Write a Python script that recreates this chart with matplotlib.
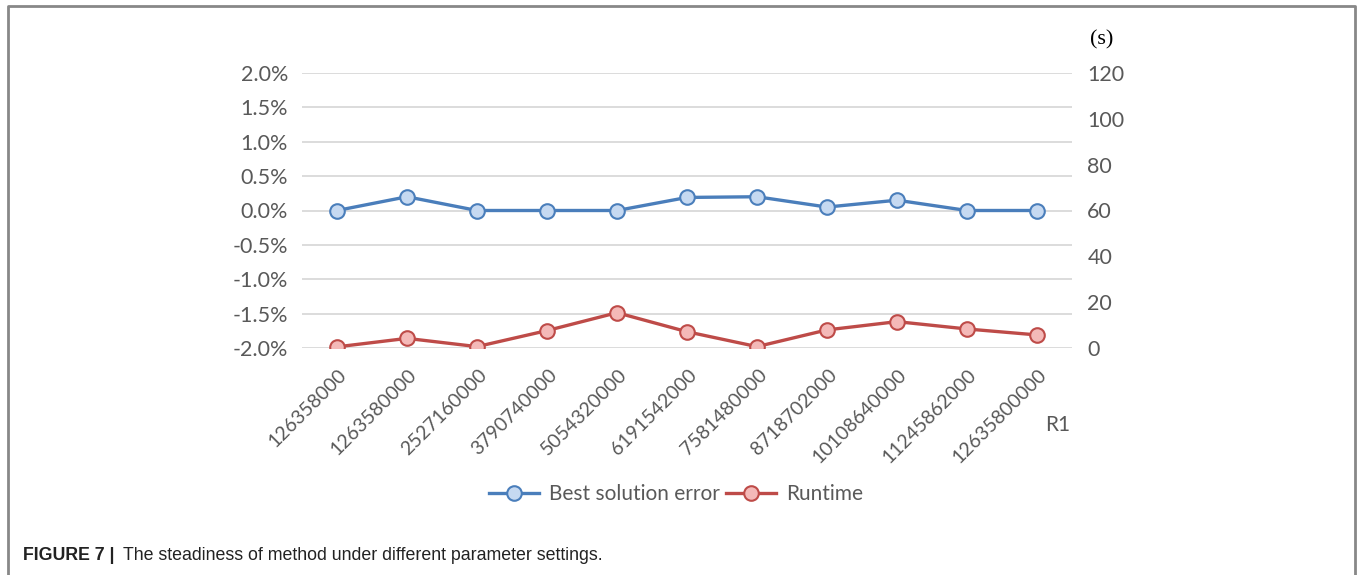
import matplotlib
matplotlib.use("Agg")
import matplotlib.pyplot as plt
from matplotlib.lines import Line2D
from matplotlib.ticker import FuncFormatter, MultipleLocator
import matplotlib.transforms as mtransforms

# Parameter settings (R1) and measured results
categories = ["126358000", "1263580000", "2527160000", "3790740000", "5054320000",
              "6191542000", "7581480000", "8718702000", "10108640000",
              "11245862000", "12635800000"]
best_error_pct = [0.0, 0.2, 0.0, 0.0, 0.0, 0.19, 0.2, 0.05, 0.15, 0.0, 0.0]
runtime_s = [0.5, 4.2, 0.6, 7.6, 15.4, 7.1, 0.6, 7.9, 11.5, 8.3, 5.7]

blue_line = "#4a7ebb"
blue_fill = "#c6d9f1"
red_line = "#be4b48"
red_fill = "#f4b9b8"
tick_grey = "#595959"
font = "Lato"

W, H = 1358, 575
fig = plt.figure(figsize=(W / 100, H / 100), dpi=100)

ax = fig.add_axes([302 / W, 1 - 348 / H, 770 / W, 275 / H])
ax2 = ax.twinx()

x = list(range(len(categories)))
marker_style = dict(marker="o", ms=10.5, mew=1.5)
ax.plot(x, best_error_pct, color=blue_line, lw=2.4, mfc=blue_fill,
        mec=blue_line, zorder=5, **marker_style)
ax2.plot(x, runtime_s, color=red_line, lw=2.4, mfc=red_fill,
         mec=red_line, zorder=5, **marker_style)

ax.set_xlim(-0.5, len(categories) - 0.5)
ax.set_ylim(-2.0, 2.0)
ax2.set_ylim(0, 120)
ax.yaxis.set_major_locator(MultipleLocator(0.5))
ax2.yaxis.set_major_locator(MultipleLocator(20))
ax.yaxis.set_major_formatter(FuncFormatter(lambda v, p: f"{v:.1f}%"))
ax.grid(axis="y", color="#d9d9d9", lw=1.3)
ax.set_axisbelow(True)

for a in (ax, ax2):
    for s in a.spines.values():
        s.set_visible(False)
    a.tick_params(length=0, labelsize=15.5, labelcolor=tick_grey)
    for lab in a.get_yticklabels():
        lab.set_fontfamily(font)

ax.tick_params(axis="y", pad=10)
ax2.tick_params(axis="y", pad=11)

ax.set_xticks(x)
ax.set_xticklabels(categories, rotation=45, ha="right", va="top",
                   rotation_mode="anchor", fontsize=14, color=tick_grey,
                   fontfamily=font)
offset = mtransforms.ScaledTranslation(1 / 100, -13 / 100, fig.dpi_scale_trans)
for lab in ax.get_xticklabels():
    lab.set_transform(lab.get_transform() + offset)

fig.text(1058 / W, 1 - 425 / H, "R1", ha="center", va="center",
         fontsize=15, color=tick_grey, fontfamily=font)
fig.text(1102 / W, 1 - 40 / H, "(s)", ha="center", va="center",
         fontsize=16, color="black", fontfamily="Liberation Serif")

handles = [
    Line2D([], [], color=blue_line, lw=2.4, mfc=blue_fill, mec=blue_line,
           label="Best solution error", **marker_style),
    Line2D([], [], color=red_line, lw=2.4, mfc=red_fill, mec=red_line,
           label="Runtime", **marker_style),
]
fig.legend(handles=handles, loc="center", bbox_to_anchor=(676 / W, 1 - 494 / H),
           ncol=2, frameon=False, prop={"family": font, "size": 15},
           labelcolor=tick_grey, handlelength=2.4, handletextpad=0.5,
           columnspacing=0.25)

# Caption below the chart
fig.text(23 / W, 1 - 555 / H, "FIGURE 7 |", ha="left", va="center",
         fontsize=12.8, fontweight="bold", color="#222222",
         fontfamily="Liberation Sans")
fig.text(123 / W, 1 - 555 / H, "The steadiness of method under different parameter settings.",
         ha="left", va="center", fontsize=12.8, color="#222222",
         fontfamily="Liberation Sans")

# Frame around the figure panel (open at the bottom)
frame = Line2D([7.5 / W, 7.5 / W, 1355 / W, 1355 / W],
               [0, 1 - 5.5 / H, 1 - 5.5 / H, 0],
               transform=fig.transFigure, color="#888888", lw=2)
fig.add_artist(frame)

fig.savefig("out.png", dpi=100, facecolor="white")
